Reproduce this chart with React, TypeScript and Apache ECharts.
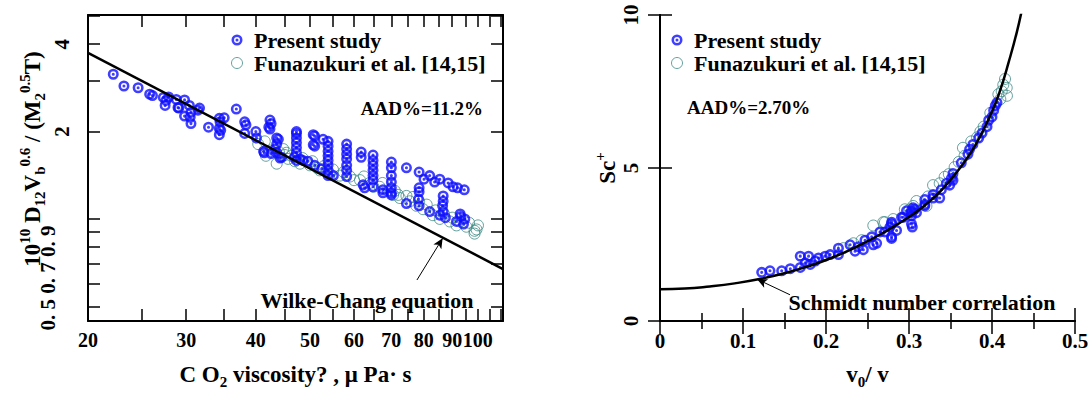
import React, { useEffect, useRef } from 'react';
import * as echarts from 'echarts';

// ---------- Left chart data (CO2 viscosity [µPa·s], 10^10 D12 Vb^0.6/(M2^0.5 T)) ----------
const presentL: [number, number][] = [
  [22.2, 3.15], [23.2, 2.87], [24.6, 2.83], [25.8, 2.69], [26.1, 2.66],
  [27.3, 2.62], [27.5, 2.46], [27.9, 2.63], [27.6, 2.56],
  [28.8, 2.58], [29.0, 2.42], [29.1, 2.41], [29.8, 2.57], [29.8, 2.26], [30.4, 2.46], [30.5, 2.24], [30.6, 2.13], [30.6, 2.33],
  [31.7, 2.41], [31.5, 2.37], [32.9, 2.07],
  [34.4, 2.22], [34.5, 2.16], [34.4, 2.05], [34.4, 1.95], [35.1, 2.23], [34.6, 2.02],
  [36.9, 2.39], [38.2, 2.16], [38.2, 1.97], [38.4, 2.11], [40.0, 2.0], [40.1, 1.9],
  [42.4, 2.19], [42.2, 2.07], [42.6, 2.13], [42.4, 2.04],
  [43.6, 1.9], [43.6, 1.81], [43.3, 1.74], [41.4, 1.69], [42.6, 1.68], [43.6, 1.69], [44.5, 1.63], [46.9, 1.63],
  [41.3, 1.71], [43.9, 1.88], [44.2, 1.62],
  [47.3, 2.0], [47.3, 1.97], [47.3, 1.9], [47.3, 1.83], [47.3, 1.76], [47.3, 1.69], [47.3, 1.59],
  [48.0, 1.61], [48.6, 1.59], [49.6, 1.58], [51.0, 1.53], [51.0, 1.93], [51.0, 1.78], [50.7, 1.95], [50.7, 1.8],
  [52.8, 1.88], [53.9, 1.85], [53.9, 1.78], [53.9, 1.71], [53.9, 1.65], [53.9, 1.59], [53.9, 1.53], [53.9, 1.47], [53.9, 1.41],
  [52.5, 1.49], [55.1, 1.41],
  [58.2, 1.81], [58.2, 1.74], [58.2, 1.67], [58.2, 1.61], [58.2, 1.53], [58.2, 1.47], [58.2, 1.4],
  [61.8, 1.7], [61.8, 1.63], [62.3, 1.31], [62.7, 1.28],
  [64.9, 1.66], [64.9, 1.59], [64.9, 1.53], [64.9, 1.47], [64.9, 1.41], [64.9, 1.36], [64.9, 1.29],
  [67.6, 1.26], [67.6, 1.23],
  [70.0, 1.57], [70.0, 1.5], [70.0, 1.41], [70.0, 1.34], [70.0, 1.28], [70.0, 1.23], [70.0, 1.21],
  [74.5, 1.5], [78.5, 1.45], [80.1, 1.37], [82.0, 1.41], [83.7, 1.34], [85.5, 1.37], [88.5, 1.33], [90.3, 1.29], [92.0, 1.28], [94.6, 1.26],
  [78.5, 1.28], [78.5, 1.24], [78.3, 1.17], [78.5, 1.11], [74.5, 1.13], [82.0, 1.06],
  [86.7, 1.2], [86.7, 1.15], [86.5, 1.11], [86.7, 1.06], [85.5, 1.03], [87.5, 1.01],
  [91.6, 0.98], [93.0, 1.04], [93.2, 1.02], [94.3, 0.96], [94.8, 1.0],
];

const funazukuriL: [number, number][] = [
  [40.4, 1.81], [41.5, 1.85], [41.7, 1.65], [42.5, 1.72], [43.6, 1.55], [44.0, 1.7], [44.8, 1.74], [45.1, 1.66],
  [45.4, 1.69], [45.7, 1.61], [46.3, 1.65], [47.0, 1.58], [48.0, 1.55], [48.5, 1.62], [50.0, 1.53], [50.5, 1.58],
  [51.5, 1.5], [52.1, 1.47], [53.0, 1.52], [54.3, 1.43], [55.0, 1.48], [56.6, 1.41], [57.5, 1.45], [59.0, 1.4],
  [60.0, 1.36], [61.5, 1.36], [62.5, 1.4], [64.0, 1.33], [65.0, 1.29], [66.7, 1.29], [67.5, 1.33], [69.5, 1.26],
  [70.5, 1.21], [71.0, 1.25], [72.0, 1.21], [72.5, 1.18], [74.5, 1.2], [75.5, 1.15], [76.5, 1.19], [77.6, 1.11],
  [78.5, 1.15], [79.8, 1.08], [81.0, 1.12], [83.1, 1.03], [84.0, 1.07], [85.5, 1.0], [87.0, 1.04], [89.1, 0.98],
  [90.0, 1.01], [91.6, 0.95], [93.0, 0.98], [95.4, 0.94], [96.5, 0.97], [98.7, 0.91], [98.7, 0.89], [100.1, 0.95], [99.5, 0.92],
];

const wilkeChang: [number, number][] = [[20, 3.73], [111, 0.672]];
const wilkeArrow: [number, number][] = [[77.8, 0.616], [86.5, 0.857]];

const xTicksL = [20, 25, 30, 35, 40, 45, 50, 55, 60, 65, 70, 75, 80, 85, 90, 95, 100, 105, 110];
const xLabelsL = [20, 30, 40, 50, 60, 70, 80, 90, 100];
const yTicksL = [0.5, 0.6, 0.7, 0.8, 0.9, 1, 2, 3, 4, 5];
const yLabelsL = [2, 4];

// ---------- Right chart data (v0/v, Sc+) ----------
const presentR: [number, number][] = [
  [0.1225, 1.59], [0.1325, 1.64], [0.1466, 1.64], [0.157, 1.71], [0.169, 2.12], [0.169, 1.75], [0.175, 1.9],
  [0.179, 2.12], [0.181, 1.85], [0.187, 1.96], [0.191, 2.06], [0.199, 2.12], [0.205, 2.17], [0.215, 2.17],
  [0.215, 2.38], [0.229, 2.49], [0.235, 2.28], [0.239, 2.43], [0.245, 2.33], [0.247, 2.64], [0.255, 2.75],
  [0.257, 2.49], [0.261, 2.54], [0.265, 2.91], [0.271, 2.91], [0.277, 3.07], [0.279, 2.75], [0.279, 3.23],
  [0.285, 2.96], [0.293, 3.39], [0.303, 3.54], [0.303, 3.44], [0.304, 3.07], [0.307, 3.65], [0.279, 2.7],
  [0.279, 3.17], [0.291, 3.39], [0.303, 3.6], [0.303, 3.17], [0.309, 3.54], [0.319, 3.76], [0.319, 3.97],
  [0.329, 4.02], [0.339, 4.29], [0.337, 4.02], [0.349, 4.44], [0.353, 4.6], [0.297, 3.6], [0.305, 3.7],
  [0.319, 3.81], [0.329, 4.13], [0.345, 4.5], [0.351, 4.66], [0.353, 4.82], [0.363, 5.17], [0.371, 5.45],
  [0.373, 5.61], [0.377, 5.77], [0.384, 5.98], [0.388, 6.14], [0.394, 6.35], [0.396, 6.56], [0.4, 6.67],
  [0.402, 6.88], [0.404, 7.04], [0.406, 7.14],
];

const funazukuriR: [number, number][] = [
  [0.4157, 7.91], [0.4136, 7.72], [0.4177, 7.62], [0.4117, 7.51], [0.418, 7.36], [0.4077, 7.41], [0.41, 7.25],
  [0.39, 6.35], [0.386, 6.19], [0.375, 5.87], [0.365, 5.66], [0.367, 5.4], [0.355, 5.03], [0.343, 4.71],
  [0.337, 4.5], [0.329, 4.44], [0.323, 4.07], [0.309, 3.92], [0.305, 3.76], [0.295, 3.65], [0.257, 3.12],
  [0.269, 3.23], [0.281, 3.33], [0.301, 3.65], [0.233, 2.54], [0.221, 2.38], [0.243, 2.64], [0.271, 3.23],
  [0.321, 3.76], [0.398, 6.8], [0.382, 6.0], [0.36, 5.2], [0.348, 4.8],
];

const schmidtCurve: [number, number][] = [
  [0, 1.04], [0.03, 1.06], [0.06, 1.13], [0.09, 1.23], [0.12, 1.37], [0.15, 1.56], [0.18, 1.8], [0.21, 2.1],
  [0.24, 2.47], [0.27, 2.9], [0.3, 3.4], [0.32, 3.8], [0.34, 4.3], [0.36, 4.95], [0.38, 5.75], [0.4, 6.85],
  [0.41, 7.55], [0.42, 8.45], [0.43, 9.45], [0.437, 10.3],
];
const schmidtArrow: [number, number][] = [[0.1566, 0.857], [0.117, 1.365]];

const NAME_PRESENT = 'Present study';
const NAME_FUNA = 'Funazukuri et al. [14,15]';

const FONT = '"Liberation Serif", "Times New Roman", serif';
const BLUE = '#0f0fff';
const GREEN = '#3d8a84';
const BULLSEYE =
  'path://M10 0A10 10 0 1 1 10 20A10 10 0 1 1 10 0ZM10 4.6A5.4 5.4 0 1 0 10 15.4A5.4 5.4 0 1 0 10 4.6ZM10 7.2A2.8 2.8 0 1 1 10 12.8A2.8 2.8 0 1 1 10 7.2Z';

const axisLineStyle = { color: '#000', width: 2 };
const tickLine = { color: '#000', width: 1.5 };
const labelStyle = { fontFamily: FONT, fontSize: 21, fontWeight: 'bold' as const, color: '#000' };
const richText = {
  b: { fontFamily: FONT, fontSize: 23, fontWeight: 'bold' as const, color: '#000', lineHeight: 30 },
  sup: { fontFamily: FONT, fontSize: 15, fontWeight: 'bold' as const, color: '#000', lineHeight: 15, verticalAlign: 'top' as const },
  sub: { fontFamily: FONT, fontSize: 15, fontWeight: 'bold' as const, color: '#000', lineHeight: 15, verticalAlign: 'bottom' as const },
};

export default function App() {
  const ref = useRef<HTMLDivElement>(null);

  useEffect(() => {
    if (!ref.current) return;
    const chart = echarts.init(ref.current, undefined, { renderer: 'svg' });

    const legendCommon = {
      orient: 'vertical' as const,
      itemWidth: 24,
      itemHeight: 11,
      itemGap: 1,
      selectedMode: false,
      textStyle: { fontFamily: FONT, fontSize: 22, fontWeight: 'bold' as const, color: '#000', lineHeight: 22 },
      data: [
        { name: NAME_PRESENT, icon: BULLSEYE, itemStyle: { color: BLUE } },
        { name: NAME_FUNA, icon: 'circle', itemStyle: { color: 'rgba(0,0,0,0)', borderColor: GREEN, borderWidth: 1 } },
      ],
    };

    const option: any = {
      animation: false,
      backgroundColor: '#fff',
      grid: [
        { left: 88, top: 15, width: 415, height: 315, show: false },
        { left: 660, top: 15, width: 415, height: 315, show: false },
      ],
      legend: [
        { ...legendCommon, left: 226, top: 24 },
        { ...legendCommon, left: 666, top: 24 },
      ],
      xAxis: [
        {
          gridIndex: 0, type: 'log', min: 20, max: 111, position: 'bottom',
          axisLine: { show: true, lineStyle: axisLineStyle },
          axisTick: { show: true, inside: true, length: 12, customValues: xTicksL, lineStyle: tickLine },
          axisLabel: {
            show: true, customValues: xLabelsL, margin: 9, hideOverlap: false,
            showMinLabel: true, showMaxLabel: true, ...labelStyle, fontSize: 20,
          },
          splitLine: { show: false },
          name: '{b|C O}{sub|2}{b| viscosity? , μ Pa· s}',
          nameLocation: 'middle', nameGap: 38,
          nameTextStyle: { rich: richText },
        },
        {
          gridIndex: 0, type: 'log', min: 20, max: 111, position: 'top',
          axisLine: { show: true, lineStyle: axisLineStyle },
          axisTick: { show: true, inside: true, length: 12, customValues: xTicksL, lineStyle: tickLine },
          axisLabel: { show: false },
          splitLine: { show: false },
        },
        {
          gridIndex: 1, type: 'value', min: 0, max: 0.5, interval: 0.1, position: 'bottom',
          axisLine: { show: true, lineStyle: axisLineStyle },
          axisTick: { show: true, inside: true, length: 13, lineStyle: tickLine },
          minorTick: { show: true, splitNumber: 2, length: 8, lineStyle: tickLine },
          axisLabel: { show: true, margin: 9, showMinLabel: true, showMaxLabel: true, ...labelStyle },
          splitLine: { show: false },
          name: '{b|v}{sub|0}{b|/ v}',
          nameLocation: 'middle', nameGap: 38,
          nameTextStyle: { rich: richText },
        },
        {
          gridIndex: 1, type: 'value', min: 0, max: 0.5, interval: 0.1, position: 'top',
          axisLine: { show: true, lineStyle: axisLineStyle },
          axisTick: { show: true, inside: true, length: 13, lineStyle: tickLine },
          minorTick: { show: true, splitNumber: 2, length: 8, lineStyle: tickLine },
          axisLabel: { show: false },
          splitLine: { show: false },
        },
      ],
      yAxis: [
        {
          gridIndex: 0, type: 'log', min: 0.445, max: 5.04, position: 'left',
          axisLine: { show: true, lineStyle: axisLineStyle },
          axisTick: { show: true, inside: true, length: 12, customValues: yTicksL, lineStyle: tickLine },
          axisLabel: { show: true, customValues: yLabelsL, rotate: 90, margin: 16, ...labelStyle },
          splitLine: { show: false },
        },
        {
          gridIndex: 0, type: 'log', min: 0.445, max: 5.04, position: 'right',
          axisLine: { show: true, lineStyle: axisLineStyle },
          axisTick: { show: true, inside: true, length: 12, customValues: yTicksL, lineStyle: tickLine },
          axisLabel: { show: false },
          splitLine: { show: false },
        },
        {
          gridIndex: 1, type: 'value', min: 0, max: 10, interval: 5, position: 'left',
          axisLine: { show: true, lineStyle: axisLineStyle },
          axisTick: { show: true, inside: true, length: 12, lineStyle: tickLine },
          axisLabel: { show: true, rotate: 90, margin: 19, showMinLabel: true, showMaxLabel: true, ...labelStyle },
          splitLine: { show: false },
          name: '{b|Sc}{sup|+}',
          nameLocation: 'middle', nameRotate: 90, nameGap: 33,
          nameTextStyle: { rich: richText },
        },
        {
          gridIndex: 1, type: 'value', min: 0, max: 10, interval: 5, position: 'right',
          axisLine: { show: true, lineStyle: axisLineStyle },
          axisTick: { show: true, inside: true, length: 12, lineStyle: tickLine },
          axisLabel: { show: false },
          splitLine: { show: false },
        },
      ],
      series: [
        {
          name: 'Wilke-Chang equation', type: 'line', xAxisIndex: 0, yAxisIndex: 0,
          data: wilkeChang, showSymbol: false, symbol: 'none',
          lineStyle: { color: '#000', width: 2.5 },
          markLine: {
            silent: true, symbol: ['none', 'arrow'], symbolSize: [7, 10],
            label: { show: false },
            lineStyle: { color: '#000', width: 1, type: 'solid' },
            data: [[{ coord: wilkeArrow[0] }, { coord: wilkeArrow[1] }]],
          },
        },
        {
          name: NAME_FUNA, type: 'scatter', xAxisIndex: 0, yAxisIndex: 0,
          data: funazukuriL, symbol: 'circle', symbolSize: 11,
          itemStyle: { color: 'rgba(0,0,0,0)', borderColor: GREEN, borderWidth: 1 },
        },
        {
          name: NAME_PRESENT, type: 'scatter', xAxisIndex: 0, yAxisIndex: 0,
          data: presentL, symbol: BULLSEYE, symbolSize: 11, symbolKeepAspect: true,
          itemStyle: { color: BLUE },
        },
        {
          name: 'Schmidt number correlation', type: 'line', xAxisIndex: 2, yAxisIndex: 2,
          data: schmidtCurve, showSymbol: false, symbol: 'none', smooth: true,
          lineStyle: { color: '#000', width: 2.5 },
          markLine: {
            silent: true, symbol: ['none', 'arrow'], symbolSize: [7, 10],
            label: { show: false },
            lineStyle: { color: '#000', width: 1, type: 'solid' },
            data: [[{ coord: schmidtArrow[0] }, { coord: schmidtArrow[1] }]],
          },
        },
        {
          name: NAME_FUNA, type: 'scatter', xAxisIndex: 2, yAxisIndex: 2,
          data: funazukuriR, symbol: 'circle', symbolSize: 11,
          itemStyle: { color: 'rgba(0,0,0,0)', borderColor: GREEN, borderWidth: 1 },
        },
        {
          name: NAME_PRESENT, type: 'scatter', xAxisIndex: 2, yAxisIndex: 2,
          data: presentR, symbol: BULLSEYE, symbolSize: 11, symbolKeepAspect: true,
          itemStyle: { color: BLUE },
        },
      ],
      graphic: [
        {
          type: 'text', x: 32, y: 159, rotation: Math.PI / 2,
          style: {
            text: '{b|10}{sup|10}{b| D}{sub|12}{b|V}{sub|b}{sup|0.6}{b| / (M}{sub|2}{sup|0.5}{b|T)}',
            rich: richText, align: 'center', verticalAlign: 'middle',
          },
        },
        {
          type: 'text', x: 48, y: 278, rotation: Math.PI / 2,
          style: { text: '0. 5 0. 7 0. 9', fontFamily: FONT, fontSize: 21, fontWeight: 'bold', align: 'center', verticalAlign: 'middle', fill: '#000' },
        },
        {
          type: 'text', x: 483, y: 108,
          style: { text: 'AAD%=11.2%', fontFamily: FONT, fontSize: 19, fontWeight: 'bold', fill: '#000', align: 'right', verticalAlign: 'middle' },
        },
        {
          type: 'text', x: 687, y: 107,
          style: { text: 'AAD%=2.70%', fontFamily: FONT, fontSize: 19, fontWeight: 'bold', fill: '#000', align: 'left', verticalAlign: 'middle' },
        },
        {
          type: 'text', x: 367, y: 300,
          style: { text: 'Wilke-Chang equation', fontFamily: FONT, fontSize: 22, fontWeight: 'bold', fill: '#000', align: 'center', verticalAlign: 'middle' },
        },
        {
          type: 'text', x: 922, y: 302,
          style: { text: 'Schmidt number correlation', fontFamily: FONT, fontSize: 22, fontWeight: 'bold', fill: '#000', align: 'center', verticalAlign: 'middle' },
        },
      ],
    };

    chart.setOption(option);
    return () => chart.dispose();
  }, []);

  return <div ref={ref} style={{ position: 'fixed', left: 0, top: 0, width: 1092, height: 394, background: '#fff' }} />;
}
